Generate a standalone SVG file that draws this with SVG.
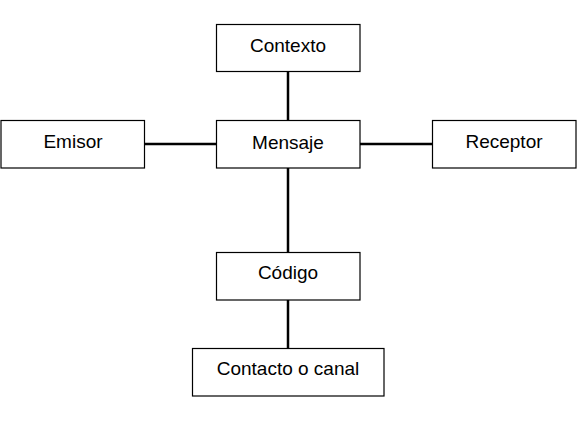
<svg xmlns="http://www.w3.org/2000/svg" width="581" height="429" viewBox="0 0 581 429">
<style>
.box{fill:#fff;stroke:#000;stroke-width:1.2}
.lbl{font-family:"Liberation Sans",Arial,sans-serif;font-size:19px;fill:#000;text-anchor:middle;dominant-baseline:central}
.con{stroke:#000;stroke-width:2.5;fill:none}
</style>
<rect width="581" height="429" fill="#fff"/>
<g id="connectors">
<line class="con" x1="288" y1="71" x2="288" y2="120"/>
<line class="con" x1="288" y1="168" x2="288" y2="252"/>
<line class="con" x1="288" y1="300" x2="288" y2="348"/>
<line class="con" x1="144" y1="144" x2="216" y2="144"/>
<line class="con" x1="360" y1="144" x2="432" y2="144"/>
</g>
<g id="contexto"><rect class="box" x="216.5" y="24.5" width="143.5" height="47"/><text class="lbl" x="288" y="45">Contexto</text></g>
<g id="mensaje"><rect class="box" x="216.5" y="120.5" width="143.5" height="47.5"/><text class="lbl" x="288" y="142">Mensaje</text></g>
<g id="emisor"><rect class="box" x="1" y="120.5" width="143.5" height="47.5"/><text class="lbl" x="73" y="141">Emisor</text></g>
<g id="receptor"><rect class="box" x="432.5" y="120.5" width="143.5" height="47.5"/><text class="lbl" x="504" y="141">Receptor</text></g>
<g id="codigo"><rect class="box" x="216.5" y="252.5" width="143.5" height="47.5"/><text class="lbl" x="288" y="272">Código</text></g>
<g id="contacto"><rect class="box" x="192.5" y="348.5" width="191.5" height="47.5"/><text class="lbl" x="288" y="368">Contacto o canal</text></g>
</svg>
